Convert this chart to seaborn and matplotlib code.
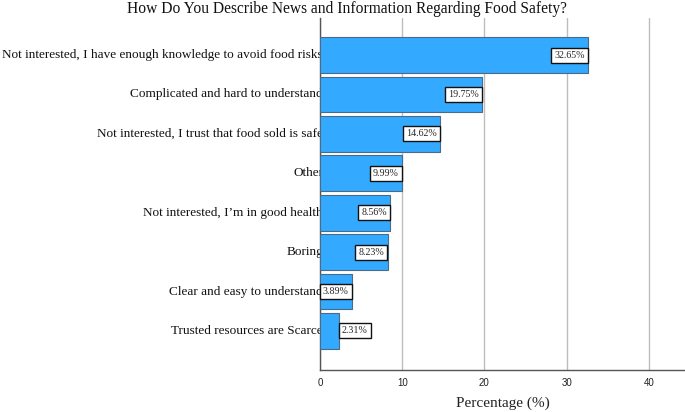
import matplotlib
matplotlib.use("Agg")
import matplotlib.pyplot as plt
import matplotlib.transforms as mtransforms
import seaborn as sns
import pandas as pd

categories = [
    "Not interested, I have enough knowledge to avoid food risks",
    "Complicated and hard to understand",
    "Not interested, I trust that food sold is safe",
    "Other",
    "Not interested, I\u2019m in good health",
    "Boring",
    "Clear and easy to understand",
    "Trusted resources are Scarce",
]
percentages = [32.65, 19.75, 14.62, 9.99, 8.56, 8.23, 3.89, 2.31]
value_labels = ["32.65%", "19.75%", "14.62%", "9.99%", "8.56%", "8.23%", "3.89%", "2.31%"]
x_ticks = [0, 10, 20, 30, 40]

df = pd.DataFrame({"category": categories, "percentage": percentages})

sns.set_style("white")
plt.rcParams["font.family"] = ["Liberation Serif", "DejaVu Serif"]

fig = plt.figure(figsize=(6.85, 4.12), dpi=100)
ax = fig.add_axes([320 / 685, 1 - 370 / 412, 365 / 685, (370 - 18) / 412])

sns.barplot(data=df, x="percentage", y="category", orient="h", ax=ax,
            color="#33AAFF", saturation=1, width=0.91,
            edgecolor="#4A6A88", linewidth=0.8, zorder=3)

ax.set_xlim(0, 44.4)
ax.set_ylim(len(categories) - 1 + 0.99, -0.94)
ax.set_xticks(x_ticks)
ax.set_xticklabels([str(t) for t in x_ticks], family="Liberation Sans", fontsize=7, color="#222222")
ax.tick_params(axis="x", length=0, pad=6)
ax.set_yticks([])
ax.set_ylabel("")
ax.set_xlabel("Percentage (%)", fontsize=11, labelpad=6, color="#222222")
ax.grid(axis="x", color="#BDBDBD", linewidth=1.0, zorder=0)
ax.set_axisbelow(True)
for side in ["top", "right"]:
    ax.spines[side].set_visible(False)
for side in ["left", "bottom"]:
    ax.spines[side].set_color("#555555")
    ax.spines[side].set_linewidth(1.0)

# category labels drawn behind the axes so the plot area hides their ends
trans = mtransforms.blended_transform_factory(ax.transAxes, ax.transData)
for i, cat in enumerate(categories):
    fig.text(3 / 365, i, cat, transform=trans, ha="right", va="center",
             fontsize=9.5, color="#111111", zorder=-1)

# value labels
box = dict(boxstyle="square,pad=0.3", fc="white", ec="#111111", lw=1.0)
for i, (v, lab) in enumerate(zip(percentages, value_labels)):
    if v < 3:
        ax.annotate(lab, (v, i), xytext=(2, 0), textcoords="offset points",
                    ha="left", va="center", fontsize=7.2, bbox=box, zorder=5)
    else:
        ax.annotate(lab, (v, i), xytext=(-2.5, 0), textcoords="offset points",
                    ha="right", va="center", fontsize=7.2, bbox=box, zorder=5)

fig.text(347 / 685, 1 - 9 / 412, "How Do You Describe News and Information Regarding Food Safety?",
         ha="center", va="center", fontsize=11.2, color="#111111")

fig.savefig("out.png", dpi=100)
